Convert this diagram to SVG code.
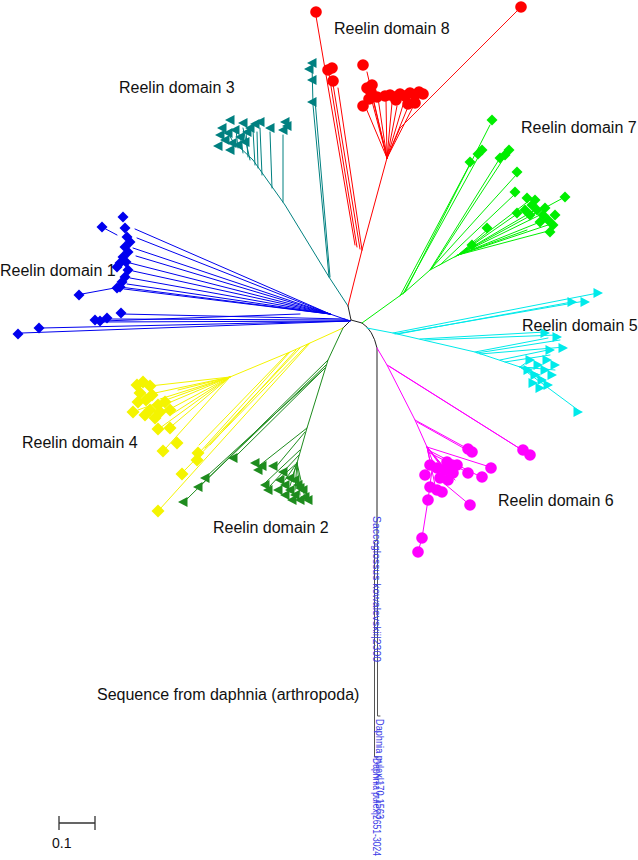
<svg xmlns="http://www.w3.org/2000/svg" width="638" height="860" viewBox="0 0 638 860">
<style>
.lbl{font-family:"Liberation Sans",Arial,sans-serif;font-size:16px;fill:#111}
.seq{font-family:"Liberation Sans",Arial,sans-serif;font-size:10px;fill:#3a3ae6}
.e{fill:none;stroke-width:1;stroke-linecap:round}
.red{stroke:#ff0000}.teal{stroke:#008080}.blue{stroke:#0000ee}.yel{stroke:#f4f400}
.dg{stroke:#1e8c1e}.lg{stroke:#00ee00}.cy{stroke:#00eaea}.mg{stroke:#ff00ff}
</style>
<defs>
<circle id="cir" r="5.8"/>
<path id="dia" d="M0,-5.5L5.5,0L0,5.5L-5.5,0Z"/>
<path id="dib" d="M0,-6.5L6.5,0L0,6.5L-6.5,0Z"/>
<path id="triL" d="M-5,0L4.5,-5L4.5,5Z"/>
<path id="triR" d="M5,0L-4.5,-5L-4.5,5Z"/>
</defs>
<rect width="638" height="860" fill="#fff"/>

<g id="connectors">
<path class="e" stroke="#222" stroke-width="1.7" d="M348,306L351,320L362,323Q373,330 377,348L377,540M351,320L343,328"/>
<path class="e" stroke="#555" stroke-width="1.2" d="M377,540L374.5,542L374.5,757L378,757M377,540L377.5,542L377.5,716L380,716"/>
<path class="e red" d="M348,306L362,250M362,250L338,88M360,249L333,84M357,247L329,74M355,245L316,16M362,250L387,158M387,158L367,72M387,158L369,90M387,158L366,108M387,158L372,95M387,158L378,98M387,158L386,100M387,158L392,103M387,158L397,106M387,158L403,105M387,158L410,102M387,158L416,101M387,158L400,128"/>
<path class="e" stroke="#ff1010" stroke-width="1.4" d="M400,128L521,7"/>
<path class="e teal" d="M348,306L329,277L285,205L253,160L232,140M329,277L313,105L312,65M330,277L315,100M283,202L283,135M272,188L270,132M262,175L260,128M255,165L253,130M248,157L246,132M243,153L240,135M238,148L236,130M250,160L243,128M258,168L257,132M235,145L228,133"/>
<path class="e blue" d="M350,321L22,333M347,321L42,328M350,321L98,322M348,320L108,319M345,319L122,314M300,314L103,321M350,321L330,314M330,314L135,229M330,314L137,238M330,314L133,248M330,314L136,256M330,314L130,263M330,314L133,271M330,314L130,278M330,314L127,284M330,314L124,289M330,314L120,287L82,294M102,227L117,235"/>
<path class="e yel" d="M343,328L310,343L290,352L230,377L178,390M310,343L160,509M308,344L184,471M300,348L205,448M296,350L210,445M290,352L200,452M288,353L199,445M230,377L166,448M230,377L160,428M230,377L173,425M230,377L138,410M230,377L150,386M230,377L155,393M230,377L160,399M230,377L166,404M230,377L170,409M230,377L172,414"/>
<path class="e dg" d="M343,328L328,360L307,428L297,463L292,478M328,360L186,500M326,365L200,486M323,370L207,476M325,368L236,456M307,428L260,465M305,432L275,468M300,450L265,483M299,455L270,486M297,463L285,480M297,463L290,486M297,463L295,490M297,463L300,495M297,463L305,498M297,463L280,478"/>
<path class="e lg" d="M362,323L405,292L430,270L458,255M405,292L490,125M403,294L481,152M400,296L470,164M430,270L500,158M432,268L506,155M430,270L517,174M440,265L515,194M458,255L517,214M458,255L487,230M455,257L472,246M458,255L530,200M458,255L535,210M458,255L540,215M458,255L545,220M458,255L548,225M458,255L552,230M458,255L527,230M458,255L563,198"/>
<path class="e cy" d="M367,328L393,333L475,352L520,367L578,410M393,333L598,293M395,334L585,301M398,334L572,302M420,339L545,332M425,340L557,335M475,352L548,338M477,353L560,340M480,354L565,347M500,360L548,350M505,362L550,355M520,367L530,360M520,367L535,368M520,367L540,375M520,367L545,380M520,367L550,385M520,367L555,370"/>
<path class="e mg" d="M377,348L387,365L415,420L427,447L432,470L428,500L422,538L418,552M387,365L522,450M389,366L530,455M415,420L470,450M417,422L474,454M427,447L490,467M428,450L481,477M428,452L467,472M427,447L440,465M427,447L445,470M427,447L450,475M427,447L455,480M427,447L440,480M427,447L435,485M440,480L470,505"/>
</g>

<g id="domain8" fill="#ff0000">
<use href="#cir" x="316" y="12"/><use href="#cir" x="328" y="70"/><use href="#cir" x="332" y="68"/><use href="#cir" x="333" y="81"/>
<use href="#cir" x="363" y="65"/><use href="#cir" x="367" y="88"/><use href="#cir" x="371" y="92"/><use href="#cir" x="363" y="106"/><use href="#cir" x="372" y="85"/><use href="#cir" x="369" y="99"/>
<use href="#cir" x="377" y="97"/><use href="#cir" x="385" y="96"/><use href="#cir" x="390" y="95"/><use href="#cir" x="395" y="97"/><use href="#cir" x="400" y="94"/>
<use href="#cir" x="405" y="96"/><use href="#cir" x="410" y="93"/><use href="#cir" x="415" y="95"/><use href="#cir" x="419" y="92"/><use href="#cir" x="423" y="94"/>
<use href="#cir" x="415" y="103"/><use href="#cir" x="408" y="104"/><use href="#cir" x="396" y="100"/><use href="#cir" x="521" y="7"/>
</g>
<g id="domain3" fill="#008080">
<use href="#triL" x="312" y="63"/><use href="#triL" x="309" y="69"/><use href="#triL" x="312" y="80"/><use href="#triL" x="312" y="102"/>
<use href="#triL" x="230" y="120"/><use href="#triL" x="243" y="123"/><use href="#triL" x="260" y="122"/><use href="#triL" x="270" y="128"/><use href="#triL" x="285" y="122"/><use href="#triL" x="287" y="126"/>
<use href="#triL" x="222" y="128"/><use href="#triL" x="228" y="133"/><use href="#triL" x="235" y="130"/><use href="#triL" x="240" y="137"/><use href="#triL" x="247" y="132"/>
<use href="#triL" x="225" y="140"/><use href="#triL" x="232" y="143"/><use href="#triL" x="238" y="145"/><use href="#triL" x="220" y="135"/><use href="#triL" x="250" y="128"/>
<use href="#triL" x="255" y="124"/><use href="#triL" x="245" y="142"/><use href="#triL" x="218" y="146"/><use href="#triL" x="230" y="150"/><use href="#triL" x="283" y="130"/>
</g>
<g id="domain1" fill="#0000ee">
<use href="#dia" x="18" y="334"/><use href="#dia" x="39" y="328"/><use href="#dia" x="95" y="320"/><use href="#dia" x="100" y="321"/><use href="#dia" x="107" y="318"/><use href="#dia" x="121" y="313"/>
<use href="#dia" x="79" y="295"/><use href="#dia" x="102" y="227"/><use href="#dia" x="123" y="217"/>
<use href="#dia" x="125" y="228"/><use href="#dia" x="127" y="237"/><use href="#dia" x="125" y="247"/><use href="#dia" x="128" y="252"/><use href="#dia" x="123" y="257"/>
<use href="#dia" x="120" y="263"/><use href="#dia" x="117" y="267"/><use href="#dia" x="128" y="270"/><use href="#dia" x="125" y="277"/><use href="#dia" x="122" y="282"/>
<use href="#dia" x="120" y="287"/><use href="#dia" x="117" y="288"/><use href="#dia" x="130" y="242"/><use href="#dia" x="126" y="262"/>
</g>
<g id="domain4" fill="#f4f400">
<use href="#dib" x="137" y="385"/><use href="#dib" x="143" y="382"/><use href="#dib" x="150" y="386"/><use href="#dib" x="140" y="393"/><use href="#dib" x="138" y="402"/>
<use href="#dib" x="146" y="400"/><use href="#dib" x="152" y="395"/><use href="#dib" x="158" y="405"/><use href="#dib" x="165" y="402"/><use href="#dib" x="160" y="412"/>
<use href="#dib" x="170" y="410"/><use href="#dib" x="150" y="410"/><use href="#dib" x="155" y="418"/><use href="#dib" x="145" y="415"/>
<use href="#dib" x="133" y="412"/><use href="#dib" x="158" y="429"/><use href="#dib" x="170" y="428"/><use href="#dib" x="163" y="451"/><use href="#dib" x="177" y="443"/>
<use href="#dib" x="198" y="453"/><use href="#dib" x="197" y="460"/><use href="#dib" x="182" y="474"/><use href="#dib" x="158" y="511"/>
</g>
<g id="domain2" fill="#1e8c1e">
<use href="#triL" x="183" y="502"/><use href="#triL" x="198" y="487"/><use href="#triL" x="205" y="478"/><use href="#triL" x="233" y="458"/>
<use href="#triL" x="255" y="463"/><use href="#triL" x="258" y="470"/><use href="#triL" x="262" y="466"/><use href="#triL" x="273" y="466"/><use href="#triL" x="265" y="485"/><use href="#triL" x="268" y="490"/>
<use href="#triL" x="280" y="480"/><use href="#triL" x="285" y="485"/><use href="#triL" x="290" y="490"/><use href="#triL" x="295" y="495"/><use href="#triL" x="300" y="500"/>
<use href="#triL" x="305" y="497"/><use href="#triL" x="290" y="478"/><use href="#triL" x="298" y="485"/><use href="#triL" x="285" y="495"/><use href="#triL" x="292" y="500"/>
<use href="#triL" x="303" y="490"/><use href="#triL" x="308" y="500"/><use href="#triL" x="278" y="490"/><use href="#triL" x="283" y="472"/><use href="#triL" x="295" y="480"/><use href="#triL" x="300" y="488"/>
</g>
<g id="domain7" fill="#00ee00">
<use href="#dia" x="492" y="120"/><use href="#dia" x="482" y="150"/><use href="#dia" x="478" y="154"/><use href="#dia" x="470" y="162"/><use href="#dia" x="505" y="155"/>
<use href="#dia" x="500" y="158"/><use href="#dia" x="509" y="150"/><use href="#dia" x="517" y="172"/><use href="#dia" x="515" y="192"/><use href="#dia" x="517" y="213"/>
<use href="#dia" x="487" y="228"/><use href="#dia" x="472" y="245"/><use href="#dia" x="565" y="197"/>
<use href="#dia" x="527" y="198"/><use href="#dia" x="532" y="205"/><use href="#dia" x="537" y="210"/><use href="#dia" x="543" y="215"/><use href="#dia" x="548" y="220"/>
<use href="#dia" x="553" y="225"/><use href="#dia" x="550" y="232"/><use href="#dia" x="540" y="222"/><use href="#dia" x="530" y="215"/><use href="#dia" x="545" y="208"/>
<use href="#dia" x="555" y="215"/><use href="#dia" x="535" y="200"/><use href="#dia" x="525" y="210"/>
</g>
<g id="domain5" fill="#00eaea">
<use href="#triR" x="572" y="302"/><use href="#triR" x="585" y="302"/><use href="#triR" x="598" y="293"/><use href="#triR" x="545" y="333"/><use href="#triR" x="557" y="337"/>
<use href="#triR" x="563" y="348"/><use href="#triR" x="550" y="350"/><use href="#triR" x="578" y="412"/>
<use href="#triR" x="530" y="360"/><use href="#triR" x="538" y="365"/><use href="#triR" x="545" y="370"/><use href="#triR" x="535" y="375"/><use href="#triR" x="542" y="380"/>
<use href="#triR" x="548" y="385"/><use href="#triR" x="540" y="388"/><use href="#triR" x="552" y="375"/><use href="#triR" x="555" y="365"/><use href="#triR" x="528" y="370"/>
<use href="#triR" x="533" y="383"/><use href="#triR" x="547" y="360"/>
</g>
<g id="domain6" fill="#ff00ff">
<use href="#cir" x="523" y="450"/><use href="#cir" x="530" y="455"/><use href="#cir" x="472" y="452"/><use href="#cir" x="468" y="449"/><use href="#cir" x="491" y="468"/>
<use href="#cir" x="482" y="477"/><use href="#cir" x="468" y="473"/><use href="#cir" x="470" y="505"/><use href="#cir" x="422" y="538"/><use href="#cir" x="418" y="552"/>
<use href="#cir" x="430" y="465"/><use href="#cir" x="437" y="468"/><use href="#cir" x="445" y="470"/><use href="#cir" x="452" y="465"/><use href="#cir" x="457" y="465"/>
<use href="#cir" x="440" y="478"/><use href="#cir" x="448" y="480"/><use href="#cir" x="453" y="473"/><use href="#cir" x="430" y="487"/><use href="#cir" x="437" y="490"/>
<use href="#cir" x="442" y="492"/><use href="#cir" x="425" y="475"/><use href="#cir" x="428" y="500"/><use href="#cir" x="447" y="462"/>
</g>

<g id="labels">
<text class="lbl" x="334" y="34">Reelin domain 8</text>
<text class="lbl" x="119" y="93">Reelin domain 3</text>
<text class="lbl" x="521" y="133">Reelin domain 7</text>
<text class="lbl" x="0" y="276">Reelin domain 1</text>
<text class="lbl" x="522" y="331">Reelin domain 5</text>
<text class="lbl" x="22" y="448">Reelin domain 4</text>
<text class="lbl" x="498" y="506">Reelin domain 6</text>
<text class="lbl" x="213" y="533">Reelin domain 2</text>
<text class="lbl" x="97" y="700">Sequence from daphnia (arthropoda)</text>
<text class="seq" transform="translate(372.5,516) rotate(90)" textLength="146" lengthAdjust="spacingAndGlyphs">Saccoglossus kowalevskii|2300</text>
<text class="seq" transform="translate(375.5,719) rotate(90)" textLength="100" lengthAdjust="spacingAndGlyphs">Daphnia pulex|170-1563</text>
<text class="seq" transform="translate(372.5,758) rotate(90)" textLength="98" lengthAdjust="spacingAndGlyphs">Daphnia pulex|2651-3024</text>
</g>

<g id="scalebar">
<path d="M59,823H95M59,816V830M95,816V830" stroke="#333" stroke-width="1.3" fill="none"/>
<text x="52" y="848" style="font-family:'Liberation Sans',Arial,sans-serif;font-size:14px;fill:#111">0.1</text>
</g>
</svg>
